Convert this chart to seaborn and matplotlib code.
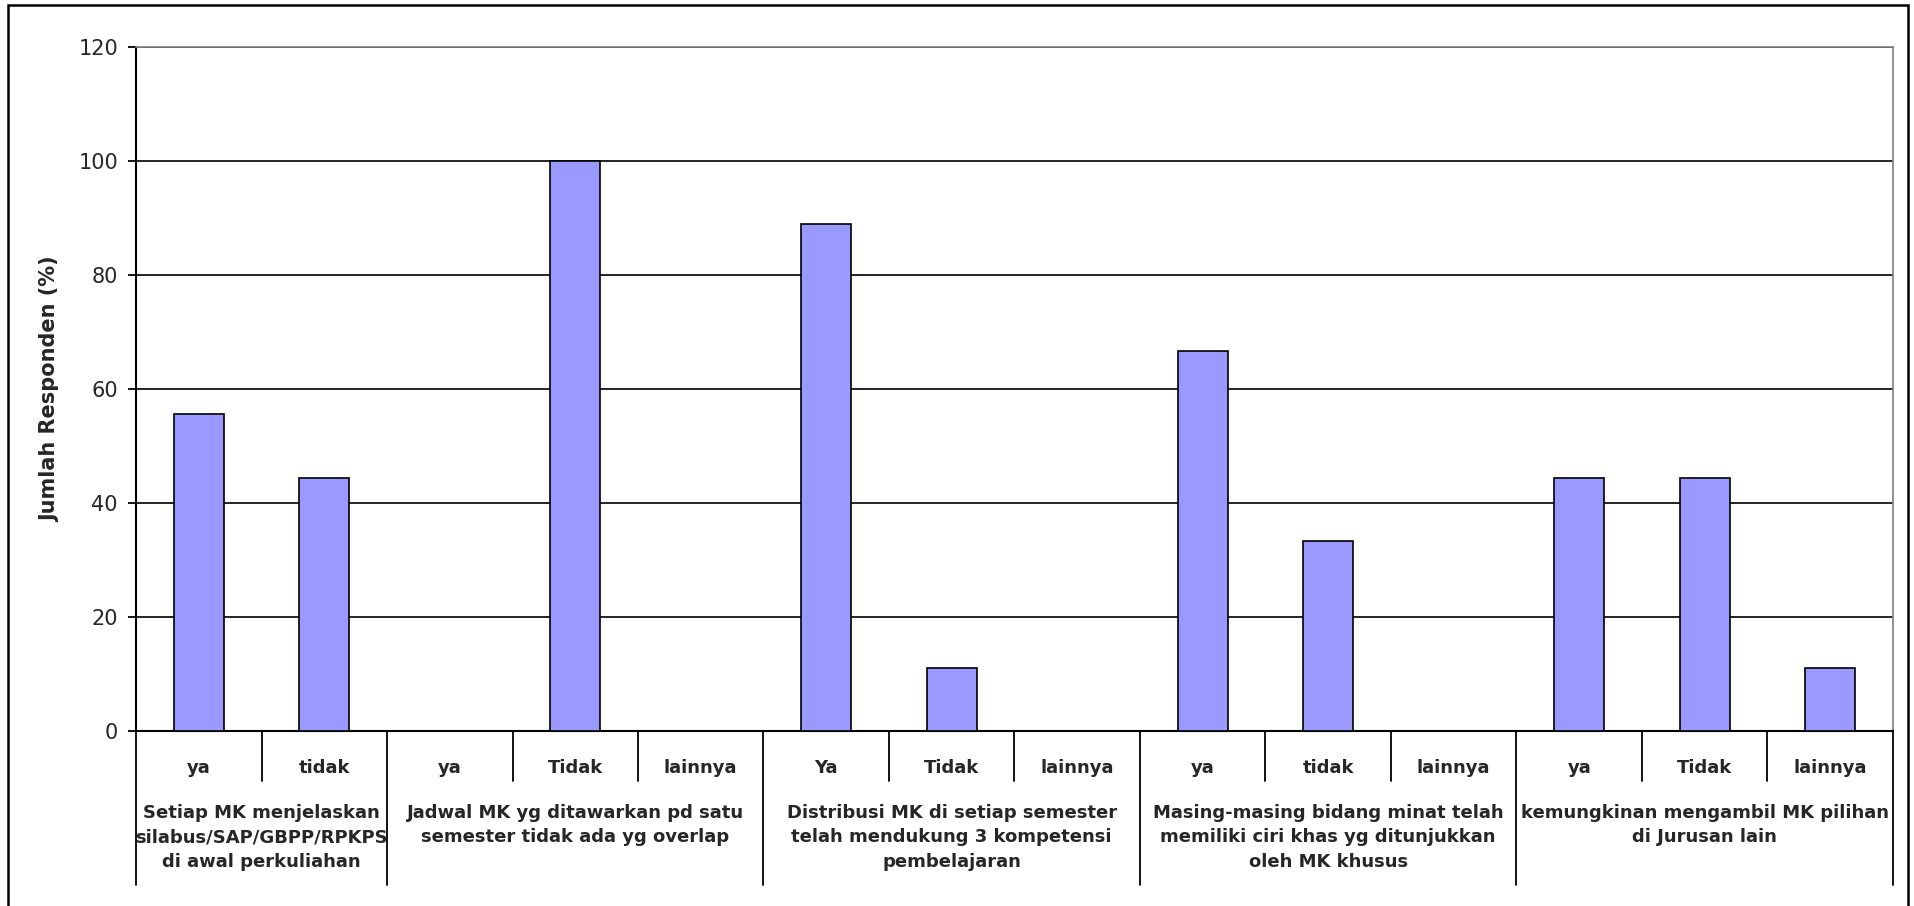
import pandas as pd
import numpy as np
import matplotlib
matplotlib.use('Agg')
import matplotlib.pyplot as plt
import matplotlib.transforms as mtransforms
from matplotlib.patches import Rectangle
import seaborn as sns

sns.set_style('white')
plt.rcParams['font.family'] = ['DejaVu Sans']

# ==============================
# DATA
# ==============================
kategori = ['ya', 'tidak',
            'ya', 'Tidak', 'lainnya',
            'Ya', 'Tidak', 'lainnya',
            'ya', 'tidak', 'lainnya',
            'ya', 'Tidak', 'lainnya']
persen = [55.6, 44.4,
          0, 100, 0,
          88.9, 11.1, 0,
          66.7, 33.3, 0,
          44.4, 44.4, 11.1]
kelompok = ['Setiap MK menjelaskan\nsilabus/SAP/GBPP/RPKPS\ndi awal perkuliahan',
            'Jadwal MK yg ditawarkan pd satu\nsemester tidak ada yg overlap',
            'Distribusi MK di setiap semester\ntelah mendukung 3 kompetensi\npembelajaran',
            'Masing-masing bidang minat telah\nmemiliki ciri khas yg ditunjukkan\noleh MK khusus',
            'kemungkinan mengambil MK pilihan\ndi Jurusan lain']
jumlah_per_kelompok = [2, 3, 3, 3, 3]
y_ticks = [0, 20, 40, 60, 80, 100, 120]

df = pd.DataFrame({'idx': range(len(kategori)), 'kategori': kategori, 'persen': persen})

# ==============================
# FIGURE
# ==============================
W, H = 1915, 906
fig = plt.figure(figsize=(W / 100, H / 100), dpi=100)
ax = fig.add_axes([136 / W, 1 - 731 / H, (1893 - 136) / W, (731 - 47) / H])

sns.barplot(data=df, x='idx', y='persen', order=list(range(len(kategori))),
            color='#9999FF', saturation=1, edgecolor='black', linewidth=1.2,
            width=0.4, ax=ax, zorder=3)

ax.set_xlim(-0.5, len(kategori) - 0.5)
ax.set_ylim(0, 120)
ax.set_yticks(y_ticks)
ax.set_yticklabels([str(t) for t in y_ticks], fontsize=15)
ax.tick_params(axis='y', direction='out', length=6, width=1.3, color='black', pad=7, left=True)
ax.set_xticks([])
ax.set_xlabel('')
ax.set_ylabel('Jumlah Responden (%)', fontsize=15, fontweight='bold')
ax.yaxis.set_label_coords(-0.043, 0.5)

ax.set_axisbelow(True)
ax.yaxis.grid(True, color='black', linewidth=1.2)

ax.spines['left'].set_color('black')
ax.spines['left'].set_linewidth(1.5)
ax.spines['bottom'].set_color('black')
ax.spines['bottom'].set_linewidth(1.5)
ax.spines['top'].set_color('#808080')
ax.spines['top'].set_linewidth(1.2)
ax.spines['right'].set_color('#808080')
ax.spines['right'].set_linewidth(1.2)
for s in ax.spines.values():
    s.set_visible(True)

# ==============================
# MULTI-LEVEL CATEGORY AXIS
# ==============================
trans = mtransforms.blended_transform_factory(ax.transData, ax.transAxes)
tinggi = (731 - 47)
y_kat = -(768 - 731) / tinggi
y_sep_kecil = -(781 - 731) / tinggi
y_sep_besar = -(885 - 731) / tinggi
y_kel = -(804 - 731) / tinggi

for i, lab in enumerate(kategori):
    ax.text(i, y_kat, lab, transform=trans, ha='center', va='center',
            fontsize=13, fontweight='bold')

start = 0
batas = [-0.5]
for n, teks in zip(jumlah_per_kelompok, kelompok):
    tengah = start + (n - 1) / 2
    ax.text(tengah, y_kel, teks, transform=trans, ha='center', va='top',
            fontsize=13, fontweight='bold', linespacing=1.45, multialignment='center')
    for j in range(1, n):
        ax.plot([start + j - 0.5] * 2, [0, y_sep_kecil], transform=trans,
                color='black', lw=1.3, clip_on=False)
    start += n
    batas.append(start - 0.5)

for b in batas:
    ax.plot([b, b], [0, y_sep_besar], transform=trans, color='black', lw=1.3, clip_on=False)

# outer chart border
fig.patches.append(Rectangle((8 / W, -0.01), (1908 - 8) / W, 1 - 5 / H + 0.01,
                             transform=fig.transFigure, fill=False,
                             edgecolor='black', linewidth=1.8))

plt.savefig('out.png', dpi=100)
